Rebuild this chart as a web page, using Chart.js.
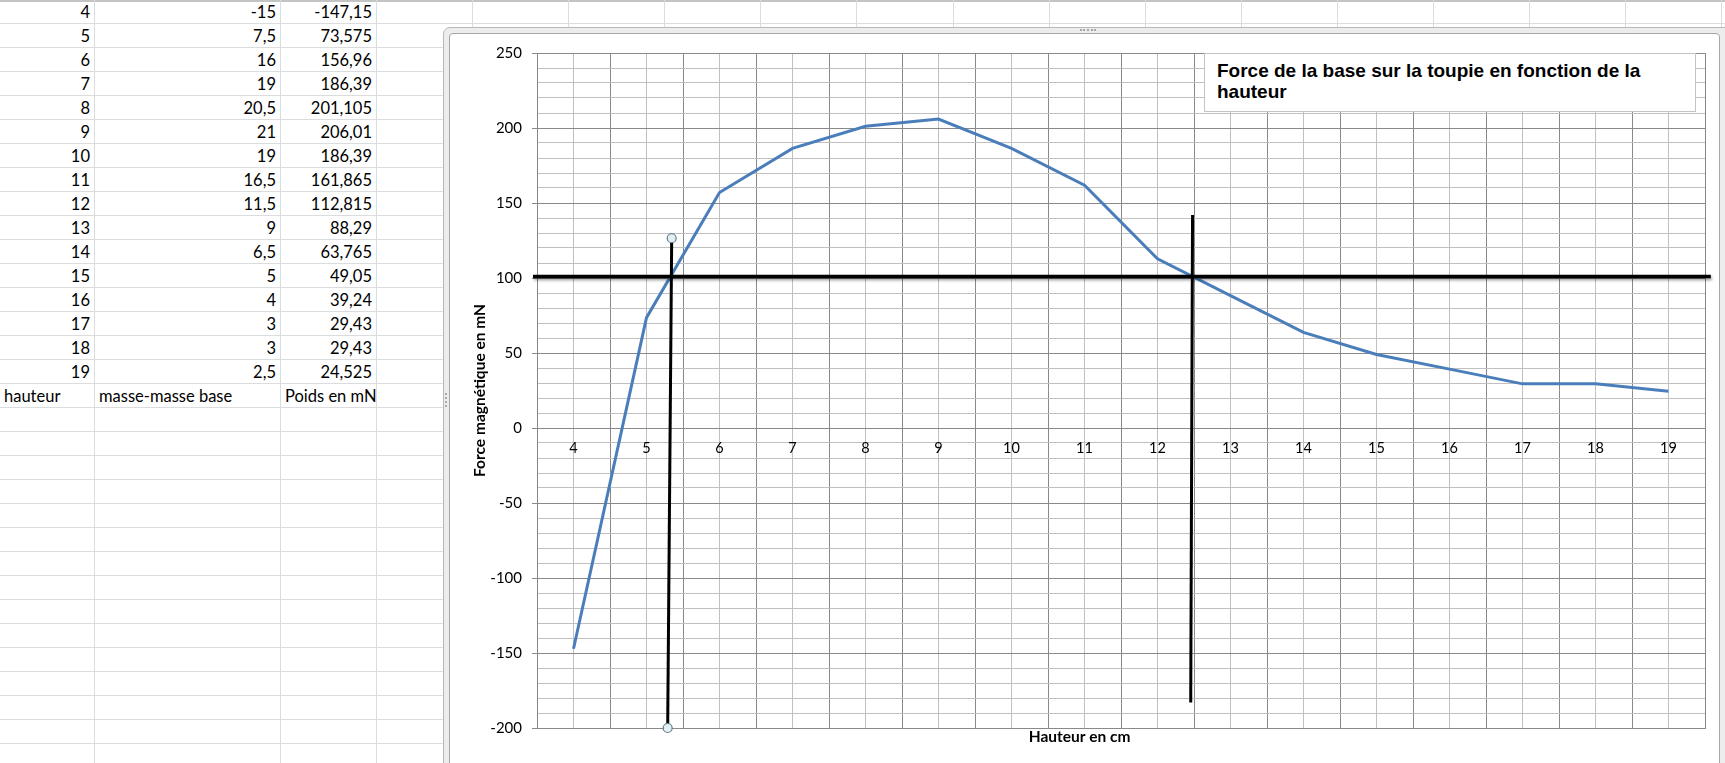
<!DOCTYPE html>
<html lang="fr">
<head>
<meta charset="utf-8">
<title>Force de la base sur la toupie en fonction de la hauteur</title>
<script src="https://cdn.jsdelivr.net/npm/chart.js@4.4.1/dist/chart.umd.min.js"></script>
<style>
  html, body { margin: 0; padding: 0; width: 1725px; height: 763px; overflow: hidden; background: #fff; }
  #rows { position: absolute; left: 0; top: 0; width: 1725px; height: 763px;
    background: repeating-linear-gradient(to bottom, transparent 0, transparent 23px, #dadcdd 23px, #dadcdd 24px); }
  #topline { position: absolute; left: 0; top: 0; width: 1725px; height: 2px; background: #c4c4c4; }
  .col { position: absolute; top: 0; width: 1px; height: 763px; background: #dadcdd; }
  #sheet { position: absolute; left: 0; top: 0; width: 377px; border-collapse: collapse; table-layout: fixed;
    font-family: Lato, 'Open Sans', sans-serif; font-size: 16.5px; color: #000; }
  #sheet td { height: 24px; padding: 1px 5px 0 4px; box-sizing: border-box; white-space: nowrap; overflow: hidden; line-height: 23px; }
  #sheet td.n { text-align: right; }
  #frame { position: absolute; left: 443px; top: 27px; width: 1300px; height: 800px; box-sizing: border-box;
    border: 1px solid #b8b8b8; border-radius: 7px 0 0 0; background: #ededed; }
  #chartBox { position: absolute; left: 449px; top: 33px; width: 1271px; height: 740px; box-sizing: border-box;
    border: 1px solid #a6a6a6; border-radius: 4px 4px 0 0; background: #fff; }
  #chartInner { position: absolute; left: 0; top: 0; width: 1269px; height: 729px; }
  .handleH { position: absolute; left: 1080px; top: 29px; width: 16px; height: 0; border-top: 2px dotted #a8a8a8; }
  .handleV { position: absolute; left: 445px; top: 393px; width: 0; height: 14px; border-left: 2px dotted #a8a8a8; }
  #titleBox { position: absolute; left: 1204px; top: 53px; width: 492px; height: 59px; box-sizing: border-box;
    border: 1px solid #c3c3c3; background: #fff; padding: 6px 0 0 12px;
    font-family: 'Liberation Sans Narrow', 'Arial Narrow', 'Liberation Sans', Arial, sans-serif;
    font-weight: bold; font-size: 19px; line-height: 21px; color: #000; white-space: nowrap; }
</style>
</head>
<body>
<div id="rows"></div>
<div id="topline"></div>
<div id="cols"></div>
<table id="sheet">
  <colgroup><col style="width:95px"><col style="width:186px"><col style="width:96px"></colgroup>
  <tbody id="sheetBody"></tbody>
</table>

<div id="frame"></div>
<div class="handleH"></div>
<div class="handleV"></div>
<div id="chartBox">
  <div id="chartInner"><canvas id="chart"></canvas></div>
</div>
<div id="titleBox">Force de la base sur la toupie en fonction de la<br>hauteur</div>

<script>
// valeurs du tableau
const hauteur = [4, 5, 6, 7, 8, 9, 10, 11, 12, 13, 14, 15, 16, 17, 18, 19];
const masse = [-15, 7.5, 16, 19, 20.5, 21, 19, 16.5, 11.5, 9, 6.5, 5, 4, 3, 3, 2.5];
const poids = [-147.15, 73.575, 156.96, 186.39, 201.105, 206.01, 186.39, 161.865, 112.815, 88.29, 63.765, 49.05, 39.24, 29.43, 29.43, 24.525];
const enTetes = ['hauteur', 'masse-masse base', 'Poids en mN'];
const yLabels = [-200, -150, -100, -50, 0, 50, 100, 150, 200, 250];

// traits noirs dessines a la main sur le graphique (en unites du graphique)
const ligneH = [{x: 3.445, y: 101}, {x: 19.58, y: 101}];
const ligneV1 = [{x: 5.29, y: -200}, {x: 5.345, y: 126.5}];
const ligneV2 = [{x: 12.455, y: -183}, {x: 12.48, y: 142}];

// feuille de calcul
const fr = v => String(v).replace('.', ',');
const body = document.getElementById('sheetBody');
hauteur.forEach((h, i) => {
  const tr = document.createElement('tr');
  tr.innerHTML = `<td class="n">${h}</td><td class="n">${fr(masse[i])}</td><td class="n">${fr(poids[i])}</td>`;
  body.appendChild(tr);
});
const trh = document.createElement('tr');
trh.innerHTML = enTetes.map(t => `<td>${t}</td>`).join('');
body.appendChild(trh);

const cols = document.getElementById('cols');
const colX = [94, 280, 376];
for (let x = 472; x < 1725; x += 96.1) colX.push(Math.round(x));
colX.forEach(x => {
  const d = document.createElement('div');
  d.className = 'col';
  d.style.left = x + 'px';
  cols.appendChild(d);
});

// graphique
const major = '#898989';
const minor = '#c0c0c0';
Chart.defaults.font.family = "Lato, 'Open Sans', sans-serif";
Chart.defaults.color = '#000';

const ombre = {
  id: 'ombre',
  beforeDatasetDraw(chart, args) {
    if (!chart.data.datasets[args.index].ombre) return;
    const ctx = chart.ctx;
    ctx.save();
    ctx.shadowColor = 'rgba(0,0,0,0.4)';
    ctx.shadowBlur = 3;
    ctx.shadowOffsetX = 1;
    ctx.shadowOffsetY = 2;
  },
  afterDatasetDraw(chart, args) {
    if (chart.data.datasets[args.index].ombre) chart.ctx.restore();
  }
};

new Chart(document.getElementById('chart'), {
  type: 'line',
  data: {
    datasets: [
      { data: ligneH, xAxisID: 'x', borderColor: '#000', borderWidth: 3.5, pointRadius: 0, clip: false, ombre: true },
      { data: ligneV1, xAxisID: 'x', borderColor: '#000', borderWidth: 3, pointRadius: 4.5,
        pointBackgroundColor: '#e3eff3', pointBorderColor: '#5f7d8a', pointBorderWidth: 1.2, clip: false },
      { data: ligneV2, xAxisID: 'x', borderColor: '#000', borderWidth: 3, pointRadius: 0, clip: false },
      { label: 'Poids en mN', data: hauteur.map((h, i) => ({x: h, y: poids[i]})), xAxisID: 'x',
        borderColor: '#4a7ebb', borderWidth: 3, pointRadius: 0, tension: 0 }
    ]
  },
  options: {
    responsive: true,
    maintainAspectRatio: false,
    animation: false,
    layout: { padding: { top: 18, right: 14, left: 0, bottom: 0 } },
    plugins: { legend: { display: false }, tooltip: { enabled: false } },
    scales: {
      x: {
        type: 'linear', position: 'bottom', min: 3.5, max: 19.5,
        ticks: { display: false, stepSize: 0.5, autoSkip: false },
        grid: { drawTicks: false, color: c => Number.isInteger(c.tick.value) ? minor : major },
        border: { color: major },
        title: { display: true, text: 'Hauteur en cm' + '\u00a0'.repeat(22), font: { size: 15.5, weight: 'bold' },
          padding: { top: 0, bottom: 17 } },
        afterFit: s => { s.height = 35; }
      },
      xLabels: {
        type: 'linear', axis: 'x', position: { y: 0 }, min: 3.5, max: 19.5,
        afterBuildTicks: s => { s.ticks = hauteur.map(v => ({ value: v })); },
        ticks: { autoSkip: false, maxRotation: 0, padding: 12, font: { size: 14.5 } },
        grid: { display: false, drawTicks: false },
        border: { display: false }
      },
      y: {
        type: 'linear', min: -200, max: 250,
        ticks: {
          stepSize: 10, autoSkip: false, padding: 10, font: { size: 15 },
          callback: v => yLabels.includes(Math.round(v)) ? Math.round(v) : ''
        },
        grid: {
          color: c => Math.round(c.tick.value) % 50 === 0 ? major : minor,
          tickColor: c => Math.round(c.tick.value) % 50 === 0 ? major : 'rgba(0,0,0,0)',
          tickLength: 5
        },
        border: { color: major },
        title: { display: true, text: 'Force magnétique en mN', font: { size: 15.5, weight: 'bold' },
          padding: { top: 21, bottom: 0 } },
        afterFit: s => { s.width = 87; }
      }
    }
  },
  plugins: [ombre]
});
</script>
</body>
</html>
